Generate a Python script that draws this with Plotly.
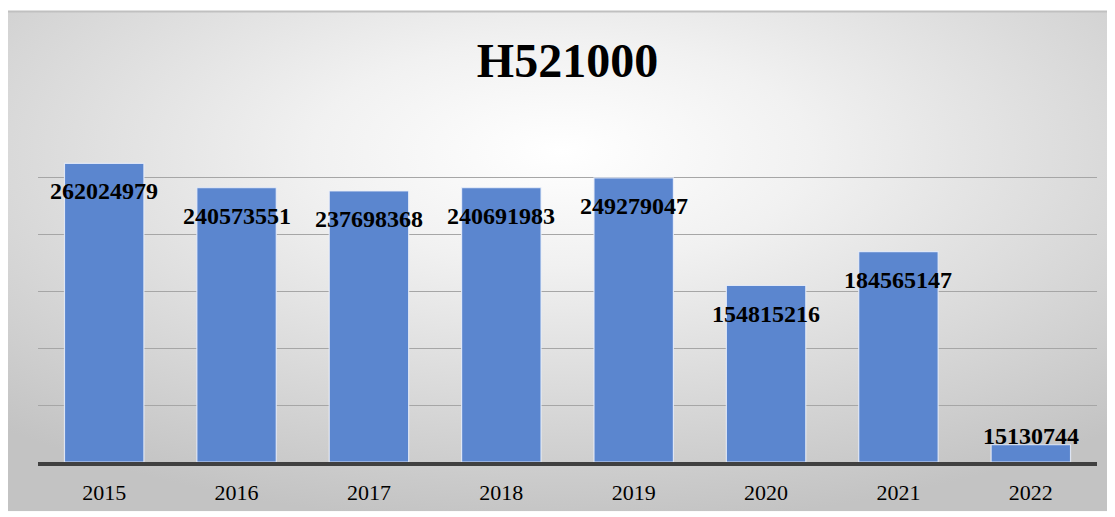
import base64
import plotly.graph_objects as go

# Data
years = ["2015", "2016", "2017", "2018", "2019", "2020", "2021", "2022"]
values = [262024979, 240573551, 237698368, 240691983, 249279047, 154815216, 184565147, 15130744]
title = "H521000"

serif = "Liberation Serif, Times New Roman, serif"

# Radial grey-to-white background like the Office chart style
svg = (
    '<svg xmlns="http://www.w3.org/2000/svg" width="1107" height="507" preserveAspectRatio="none">'
    '<defs><radialGradient id="g" cx="50%" cy="28%" r="75%">'
    '<stop offset="0" stop-color="#ffffff"/><stop offset="0.3" stop-color="#f1f1f1"/>'
    '<stop offset="1" stop-color="#c3c3c3"/></radialGradient></defs>'
    '<rect width="100%" height="100%" fill="url(#g)"/></svg>'
)
bg_src = "data:image/svg+xml;base64," + base64.b64encode(svg.encode()).decode()

# page body has an 8px margin, so the figure is 8px smaller than the window
W, H = 1107, 509
ml, mr, mt, mb = 30, 18, 112, 50
pw, ph = W - ml - mr, H - mt - mb

# paper coords of the chart-area box (pixels x 0..W, y 2..H)
x0 = (0 - ml) / pw
x1 = (W - ml) / pw
y_top = (H - mb - 2) / ph
y_bot = (H - mb - H) / ph

fig = go.Figure()
fig.add_trace(go.Bar(
    x=years, y=values,
    marker=dict(color="#5b86cf", line=dict(color="rgba(235,240,250,0.85)", width=1.2)),
    hoverinfo="x+y",
))

# value labels; on a category axis annotations take the category index
annotations = []
for i, v in enumerate(values):
    inside = v > 30000000
    annotations.append(dict(
        x=i, y=v, xref="x", yref="y", text=str(v), showarrow=False,
        font=dict(family=serif, size=24, color="black", weight="bold"),
        yshift=-28 if inside else 9,
    ))

fig.update_layout(
    width=W, height=H,
    margin=dict(l=ml, r=mr, t=mt, b=mb),
    paper_bgcolor="white",
    plot_bgcolor="rgba(0,0,0,0)",
    title=dict(text=title, x=0.5, xref="paper", y=(H - 52) / H, yanchor="middle",
               font=dict(family=serif, size=48, color="black", weight="bold")),
    bargap=0.4,
    showlegend=False,
    annotations=annotations,
    images=[dict(source=bg_src, xref="paper", yref="paper", x=x0, y=y_top,
                 sizex=x1 - x0, sizey=y_top - y_bot, xanchor="left", yanchor="top",
                 sizing="stretch", layer="below")],
    shapes=[
        dict(type="line", xref="paper", yref="paper", x0=x0, x1=x1, y0=y_top, y1=y_top,
             line=dict(color="#c0c0c0", width=2), layer="below"),
    ],
    xaxis=dict(
        type="category", range=[-0.5, len(years) - 0.5],
        showline=True, linecolor="#404040", linewidth=4, ticks="",
        tickfont=dict(family=serif, size=22, color="black"),
        ticklabelstandoff=8, showgrid=False,
    ),
    yaxis=dict(
        range=[0, 300000000], dtick=50000000, showticklabels=False,
        showgrid=True, gridcolor="#a6a6a6", gridwidth=1, zeroline=False,
    ),
)

fig.write_html("out.html")
